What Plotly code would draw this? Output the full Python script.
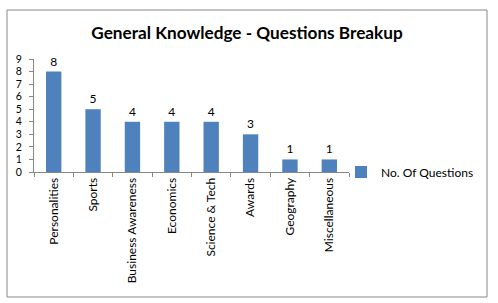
import plotly.graph_objects as go

categories = ["Personalities", "Sports", "Business Awareness", "Economics",
              "Science & Tech", "Awards", "Geography", "Miscellaneous"]
values = [8, 5, 4, 4, 4, 3, 1, 1]
series_name = "No. Of Questions"
title_text = "General Knowledge - Questions Breakup"

W, H = 498, 303
L, R, T, B = 34, 349, 59, 172  # plot area in px
pw, ph = R - L, B - T

def px_x(x):
    return (x - L) / pw

def px_y(y):
    return (B - y) / ph

FONT = "Lato, Carlito, Calibri, sans-serif"
AXIS_COLOR = "#868686"

fig = go.Figure()
fig.add_trace(go.Bar(
    x=categories, y=values, name=series_name,
    marker=dict(color="#4F81BD", line=dict(width=0)),
    width=0.39,
    text=[str(v) for v in values], textposition="outside",
    textfont=dict(family=FONT, size=12, color="#000000"),
    cliponaxis=False,
    showlegend=True,
))

fig.update_layout(
    width=W, height=H,
    margin=dict(l=L, r=W - R, t=T, b=H - B, pad=0, autoexpand=False),
    paper_bgcolor="white", plot_bgcolor="white",
    font=dict(family=FONT, size=12, color="#000000"),
    title=dict(text="<b>" + title_text + "</b>", x=0.496, xanchor="center",
               y=1 - 33 / H, yanchor="middle",
               font=dict(family=FONT, size=17.2, color="#000000")),
    showlegend=True,
    legend=dict(x=px_x(341), y=px_y(172), xanchor="left", yanchor="middle",
                font=dict(family=FONT, size=12, color="#000000"),
                itemwidth=30, bgcolor="rgba(0,0,0,0)"),
    bargap=0.6,
    shapes=[dict(type="rect", xref="paper", yref="paper",
                 x0=px_x(7), x1=px_x(487), y0=px_y(297), y1=px_y(10),
                 line=dict(color="#888888", width=1), fillcolor="rgba(0,0,0,0)",
                 layer="below")],
)
fig.update_xaxes(
    type="category", showline=True, linecolor=AXIS_COLOR, linewidth=1,
    ticks="outside", tickson="boundaries", ticklen=4, tickcolor=AXIS_COLOR,
    tickangle=-90, showgrid=False, zeroline=False,
    tickfont=dict(family=FONT, size=12, color="#000000"),
)
fig.update_yaxes(
    range=[0, 9], dtick=1, showline=True, linecolor=AXIS_COLOR, linewidth=1,
    ticks="outside", ticklen=4, tickcolor=AXIS_COLOR, showgrid=False,
    zeroline=False, ticklabelstandoff=5,
    tickfont=dict(family=FONT, size=10.5, color="#000000"),
)

fig.write_html("out.html")
